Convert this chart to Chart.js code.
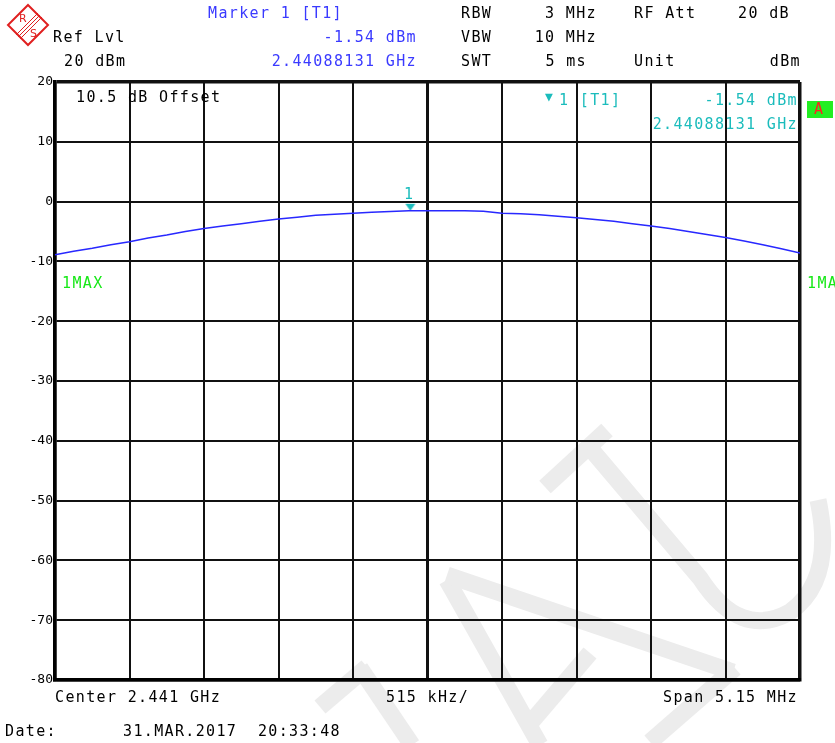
<!DOCTYPE html>
<html>
<head>
<meta charset="utf-8">
<script src="https://cdn.jsdelivr.net/npm/chart.js@4"></script>
<style>
  body { margin: 0; background: #fff; }
  #wrap { position: relative; width: 835px; height: 743px; overflow: hidden; }
  #grafico, #fundo { position: absolute; left: 0; top: 0; }
  .t { position: absolute; font-family: "DejaVu Sans Mono", monospace; font-size: 15px;
       letter-spacing: 1.35px; line-height: 16px; white-space: pre; color: #000; }
  .azul { color: #3a3aff; }
  .ciano { color: #1bbcbc; }
  .verde { color: #18e818; }
</style>
</head>
<body>
<div id="wrap">
  <!-- marca d'agua e logotipo -->
  <svg id="fundo" width="835" height="743">
    <g stroke="#ececec" stroke-width="17" fill="none" stroke-linecap="butt">
      <line x1="320" y1="707" x2="367" y2="667"/>
      <line x1="360" y1="668" x2="412" y2="745"/>
      <line x1="447" y1="580" x2="540" y2="745"/>
      <line x1="447" y1="575" x2="733" y2="672"/>
      <line x1="527" y1="727" x2="590" y2="653"/>
      <line x1="650" y1="742" x2="735" y2="668"/>
      <line x1="545" y1="487" x2="607" y2="430"/>
      <path d="M 590 448 L 700 578 Q 740 640 790 612 Q 835 580 818 500"/>
    </g>
  </svg>
  <canvas id="grafico" width="835" height="743"></canvas>
  <svg style="position:absolute;left:0;top:0" width="60" height="50">
    <polygon points="28,5 48,25 28,45 8,25" fill="none" stroke="#e02020" stroke-width="2"/>
    <line x1="38" y1="13" x2="16" y2="35" stroke="#e02020" stroke-width="1"/>
    <line x1="40" y1="15" x2="18" y2="37" stroke="#e02020" stroke-width="1"/>
    <line x1="42" y1="17" x2="20" y2="39" stroke="#e02020" stroke-width="1"/>
    <text x="19" y="22" fill="#e02020" font-family="DejaVu Sans" font-size="11">R</text>
    <text x="30" y="37" fill="#e02020" font-family="DejaVu Sans" font-size="11">S</text>
  </svg>

  <div class="t azul" style="left:208px;top:5px">Marker 1 [T1]</div>
  <div class="t" style="left:53px;top:29px">Ref Lvl</div>
  <div class="t azul" style="right:418px;top:29px">-1.54 dBm</div>
  <div class="t" style="left:64px;top:53px">20 dBm</div>
  <div class="t azul" style="right:418px;top:53px">2.44088131 GHz</div>

  <div class="t" style="left:461px;top:5px">RBW</div>
  <div class="t" style="right:238px;top:5px">3 MHz</div>
  <div class="t" style="left:634px;top:5px">RF Att</div>
  <div class="t" style="right:45px;top:5px">20 dB</div>
  <div class="t" style="left:461px;top:29px">VBW</div>
  <div class="t" style="right:238px;top:29px">10 MHz</div>
  <div class="t" style="left:461px;top:53px">SWT</div>
  <div class="t" style="right:248px;top:53px">5 ms</div>
  <div class="t" style="left:634px;top:53px">Unit</div>
  <div class="t" style="right:34px;top:53px">dBm</div>

  <div class="t" style="left:76px;top:89px">10.5 dB Offset</div>
  <div class="t ciano" style="left:545px;top:89px;font-size:13px;letter-spacing:0">&#9660;</div>
  <div class="t ciano" style="left:559px;top:92px">1 [T1]</div>
  <div class="t ciano" style="right:37px;top:92px">-1.54 dBm</div>
  <div class="t ciano" style="right:37px;top:116px">2.44088131 GHz</div>
  <div style="position:absolute;left:807px;top:101px;width:26px;height:17px;background:#22ee22"></div>
  <div class="t" style="left:814px;top:101px;color:#ff2020">A</div>

  <div class="t ciano" style="left:404px;top:186px">1</div>
  <div class="t verde" style="left:62px;top:275px">1MAX</div>
  <div class="t verde" style="left:807px;top:275px">1MA</div>

  <div class="t" style="left:55px;top:689px">Center 2.441 GHz</div>
  <div class="t" style="left:386px;top:689px">515 kHz/</div>
  <div class="t" style="right:37px;top:689px">Span 5.15 MHz</div>
  <div class="t" style="left:5px;top:723px">Date:</div>
  <div class="t" style="left:123px;top:723px">31.MAR.2017  20:33:48</div>
</div>

<script>
// frequências (GHz) e níveis do traço 1MAX (dBm)
const frequencias = [
    2.438425, 2.43855375, 2.4386825, 2.43881125, 2.43894, 2.43906875, 2.4391975, 2.43932625,
    2.4394550, 2.43958375, 2.4397125, 2.43984125, 2.43997, 2.44009875, 2.4402275, 2.44035625,
    2.440485, 2.44061375, 2.4407425, 2.44087125, 2.441, 2.44112875, 2.4412575, 2.44138625,
    2.441515, 2.44164375, 2.4417725, 2.44190125, 2.44203, 2.44215875, 2.4422875, 2.44241625,
    2.442545, 2.44267375, 2.4428025, 2.44293125, 2.44306, 2.44318875, 2.4433175, 2.44344625,
    2.443575
];
const niveis = [
    -8.9, -8.3, -7.8, -7.2, -6.7, -6.1, -5.6, -5.0,
    -4.5, -4.1, -3.7, -3.3, -2.9, -2.6, -2.3, -2.1,
    -1.95, -1.8, -1.65, -1.54, -1.55, -1.55, -1.55, -1.6,
    -1.95, -2.05, -2.2, -2.45, -2.7, -3.0, -3.3, -3.7,
    -4.1, -4.5, -5.0, -5.5, -6.0, -6.6, -7.2, -7.9,
    -8.6
];
// marcador 1 [T1]
const marcadorFreq = [2.44088131];
const marcadorNivel = [-1.54];
// eixo y (dBm)
const ticksY = [20, 10, 0, -10, -20, -30, -40, -50, -60, -70, -80];
// linhas verticais da grade (515 kHz/div)
const centro = 2.441;
const porDivisao = 0.000515;
const ticksX = [-5, -4, -3, -2, -1, 0, 1, 2, 3, 4, 5];

let pontosTraco = [];
for (let i = 0; i < frequencias.length; i++) {
    pontosTraco.push({ x: frequencias[i], y: niveis[i] });
}

// triângulo do marcador com a ponta no nível medido
let triangulo = document.createElement('canvas');
triangulo.width = 12;
triangulo.height = 16;
let ctxTri = triangulo.getContext('2d');
ctxTri.fillStyle = 'rgb(27, 188, 188)';
ctxTri.beginPath();
ctxTri.moveTo(1, 1);
ctxTri.lineTo(11, 1);
ctxTri.lineTo(6, 8);
ctxTri.closePath();
ctxTri.fill();

const config = {
    type: 'line',
    data: {
        datasets: [{
            label: '1MAX',
            data: pontosTraco,
            borderColor: 'rgb(40, 40, 255)',
            borderWidth: 1.5,
            pointRadius: 0,
            tension: 0
        }, {
            label: 'Marker 1',
            data: [{ x: marcadorFreq[0], y: marcadorNivel[0] }],
            showLine: false,
            pointStyle: triangulo,
            pointRadius: 6
        }]
    },
    options: {
        responsive: false,
        animation: false,
        layout: { padding: { top: 82, right: 35, bottom: 63, left: 0 } },
        plugins: { legend: { display: false }, tooltip: { enabled: false } },
        scales: {
            x: {
                type: 'linear',
                min: centro - 5 * porDivisao,
                max: centro + 5 * porDivisao,
                afterBuildTicks: function (eixo) {
                    eixo.ticks = ticksX.map(d => ({ value: centro + d * porDivisao }));
                },
                afterFit: function (eixo) { eixo.height = 0; },
                ticks: { display: false },
                grid: {
                    drawTicks: false,
                    color: '#111',
                    lineWidth: ctx => (ctx.index === 0 || ctx.index === 10) ? 3.5 : (ctx.index === 5 ? 3 : 2)
                },
                border: { display: true, color: '#000', width: 3.5 }
            },
            y: {
                min: -80,
                max: 20,
                afterBuildTicks: function (eixo) {
                    eixo.ticks = ticksY.map(v => ({ value: v }));
                },
                afterFit: function (eixo) { eixo.width = 55; },
                ticks: {
                    color: '#000',
                    padding: 2,
                    font: { family: 'DejaVu Sans Mono', size: 13 }
                },
                grid: {
                    drawTicks: false,
                    color: '#111',
                    lineWidth: ctx => (ctx.tick && (ctx.tick.value === 20 || ctx.tick.value === -80)) ? 3.5 : 2
                },
                border: { display: true, color: '#000', width: 3.5 }
            }
        }
    }
};

let grafico = new Chart(document.getElementById('grafico'), config);
</script>
</body>
</html>
